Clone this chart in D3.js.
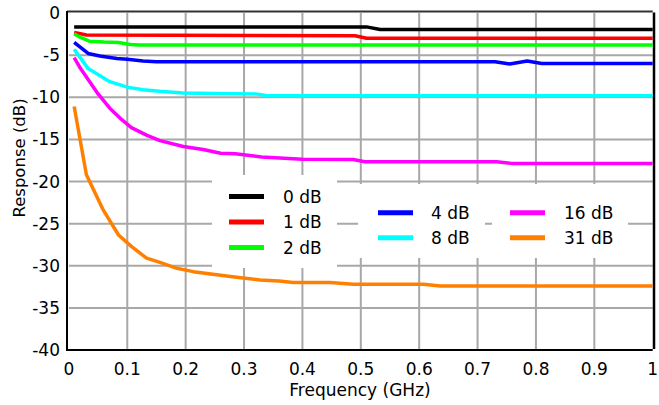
<!DOCTYPE html>
<html>
<head>
<meta charset="utf-8">
<script src="https://cdn.jsdelivr.net/npm/d3@7"></script>
<style>
  html, body { margin: 0; padding: 0; background: #fff; }
  svg { display: block; font-family: "DejaVu Sans", Verdana, sans-serif; }
</style>
</head>
<body>
<svg id="chart" width="659" height="405"></svg>
<script>
// Attenuation-setting response curves: [frequency GHz, response dB]
const att0dB = [[0.009,-1.65],[0.51,-1.65],[0.533,-1.95],[1,-1.95]];
const att1dB = [[0.009,-2.3],[0.03,-2.62],[0.49,-2.7],[0.51,-3.0],[1,-3.0]];
const att2dB = [[0.009,-2.45],[0.02,-2.9],[0.035,-3.35],[0.06,-3.45],[0.085,-3.5],[0.105,-3.75],[0.12,-3.8],[1,-3.8]];
const att4dB = [[0.009,-3.5],[0.033,-4.8],[0.053,-5.1],[0.082,-5.4],[0.1,-5.5],[0.127,-5.7],[0.15,-5.78],[0.73,-5.78],[0.755,-6.05],[0.785,-5.7],[0.81,-6.0],[1,-6.0]];
const att8dB = [[0.009,-4.3],[0.033,-6.6],[0.07,-8.15],[0.1,-8.8],[0.127,-9.1],[0.155,-9.3],[0.195,-9.5],[0.25,-9.55],[0.32,-9.6],[0.34,-9.82],[1,-9.82]];
const att16dB = [[0.009,-5.3],[0.02,-6.6],[0.035,-8.1],[0.05,-9.6],[0.07,-11.3],[0.088,-12.5],[0.107,-13.6],[0.133,-14.5],[0.156,-15.15],[0.196,-15.85],[0.23,-16.2],[0.26,-16.65],[0.285,-16.7],[0.33,-17.1],[0.4,-17.35],[0.487,-17.4],[0.507,-17.65],[0.733,-17.65],[0.758,-17.85],[1,-17.85]];
const att31dB = [[0.009,-11.1],[0.03,-19.2],[0.059,-23.4],[0.085,-26.35],[0.107,-27.7],[0.133,-29.1],[0.156,-29.6],[0.185,-30.3],[0.213,-30.7],[0.24,-30.95],[0.28,-31.3],[0.327,-31.7],[0.36,-31.8],[0.384,-32.0],[0.447,-32.0],[0.487,-32.2],[0.607,-32.2],[0.636,-32.4],[1,-32.4]];

const seriesLabels = ["0 dB","1 dB","2 dB","4 dB","8 dB","16 dB","31 dB"];
const seriesColors = ["#000000","#ff0000","#00ff00","#0000ff","#00ffff","#ff00ff","#ff8000"];
const seriesData = [att0dB, att1dB, att2dB, att4dB, att8dB, att16dB, att31dB];

const xTicks = [0,0.1,0.2,0.3,0.4,0.5,0.6,0.7,0.8,0.9,1];
const xTickLabels = ["0","0.1","0.2","0.3","0.4","0.5","0.6","0.7","0.8","0.9","1"];
const yTicks = [0,-5,-10,-15,-20,-25,-30,-35,-40];
const yTickLabels = ["0","-5","-10","-15","-20","-25","-30","-35","-40"];

const svg = d3.select("#chart");
const x = d3.scaleLinear().domain([0, 1]).range([68.9, 652.7]);
const y = d3.scaleLinear().domain([0, -40]).range([13, 350]);

// grid
const grid = svg.append("g").attr("stroke", "#a8a8a8").attr("stroke-width", 2);
grid.selectAll("line.v").data(xTicks.slice(1, -1)).join("line")
  .attr("x1", d => x(d)).attr("x2", d => x(d))
  .attr("y1", y(0)).attr("y2", y(-40));
grid.selectAll("line.h").data(yTicks.slice(1, -1)).join("line")
  .attr("x1", x(0)).attr("x2", x(1))
  .attr("y1", d => y(d)).attr("y2", d => y(d));

// frame
svg.append("line").attr("x1", 67).attr("x2", x(1)).attr("y1", 11.5).attr("y2", 11.5)
  .attr("stroke", "#333").attr("stroke-width", 2);
svg.append("line").attr("x1", 654).attr("x2", 654).attr("y1", 12.5).attr("y2", 349)
  .attr("stroke", "#000").attr("stroke-width", 2.5);
svg.append("line").attr("x1", 67).attr("x2", 67).attr("y1", 11).attr("y2", 351)
  .attr("stroke", "#000").attr("stroke-width", 2);
svg.append("line").attr("x1", 66).attr("x2", x(1)).attr("y1", 350).attr("y2", 350)
  .attr("stroke", "#000").attr("stroke-width", 2);

// curves
const line = d3.line().x(d => x(d[0])).y(d => y(d[1]));
svg.append("g").selectAll("path").data(seriesData).join("path")
  .attr("d", line)
  .attr("fill", "none")
  .attr("stroke", (d, i) => seriesColors[i])
  .attr("stroke-width", 3.5)
  .attr("stroke-linejoin", "round");

// tick labels
svg.append("g").selectAll("text").data(yTicks).join("text")
  .attr("x", 60).attr("y", d => y(d)).attr("dy", "0.36em")
  .attr("text-anchor", "end").attr("font-size", 17)
  .text((d, i) => yTickLabels[i]);
svg.append("g").selectAll("text").data(xTicks).join("text")
  .attr("x", d => x(d)).attr("y", 375)
  .attr("text-anchor", "middle").attr("font-size", 17)
  .text((d, i) => xTickLabels[i]);

// axis titles
svg.append("text").attr("x", 360).attr("y", 396).attr("text-anchor", "middle")
  .attr("font-size", 17).text("Frequency (GHz)");
svg.append("text").attr("transform", "translate(25,158) rotate(-90)")
  .attr("text-anchor", "middle").attr("font-size", 16.5).text("Response (dB)");

// legend
const legendBoxes = [
  {x: 212, y: 175, w: 125, h: 93, items: [0, 1, 2], rowY: [196.5, 222, 247.5], sx: 229, tx: 283},
  {x: 358, y: 184, w: 127, h: 74, items: [3, 4], rowY: [212.7, 237.7], sx: 378, tx: 431},
  {x: 492, y: 184, w: 136, h: 74, items: [5, 6], rowY: [212.7, 237.7], sx: 510, tx: 564}
];
legendBoxes.forEach(b => {
  const g = svg.append("g");
  g.append("rect").attr("x", b.x).attr("y", b.y).attr("width", b.w).attr("height", b.h).attr("fill", "#fff");
  b.items.forEach((k, j) => {
    g.append("line").attr("x1", b.sx).attr("x2", b.sx + 35)
      .attr("y1", b.rowY[j]).attr("y2", b.rowY[j])
      .attr("stroke", seriesColors[k]).attr("stroke-width", 5);
    g.append("text").attr("x", b.tx).attr("y", b.rowY[j]).attr("dy", "0.36em")
      .attr("font-size", 17).text(seriesLabels[k]);
  });
});
</script>
</body>
</html>
